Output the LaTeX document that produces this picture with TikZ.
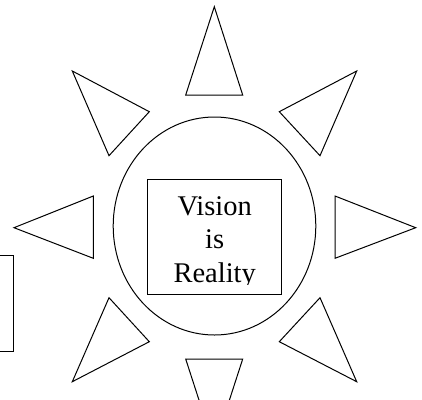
\documentclass[tikz,border=0pt]{standalone}
\usepackage{fontspec}
\setmainfont{Liberation Serif}
\begin{document}
\begin{tikzpicture}[x=1pt, y=-1pt, line width=1pt, line join=miter,
    ray/.style={draw=black},
    word/.style={font=\fontsize{28.5}{34}\selectfont, inner sep=0pt, anchor=base}]

            \def\cx{214.5}     % centre of the sun
            \def\cy{226}

            \useasboundingbox (0,0) rectangle (422,399);

            % rays
            \draw[ray] (214.3,6.7) -- (185.7,95) -- (242.7,95) -- cycle;
            \draw[ray] (72.3,71) -- (149.3,111.7) -- (109,155.7) -- cycle;
            \draw[ray] (356.7,71) -- (279.3,111.7) -- (320,155.7) -- cycle;
            \draw[ray] (14,227.7) -- (93.3,196) -- (93.3,258.3) -- cycle;
            \draw[ray] (415.7,227.7) -- (335,196) -- (335,258.3) -- cycle;
            \draw[ray] (109,297.7) -- (149.3,341.7) -- (72.3,381.7) -- cycle;
            \draw[ray] (320,297.7) -- (279.3,341.7) -- (356.7,381.7) -- cycle;
            \begin{scope}
                \clip (0,0) rectangle (422,399);
                \draw[ray] (185.7,359) -- (242.7,359) -- (214.2,447) -- cycle;
                % box at the left edge
                \draw (-20,255.7) rectangle (13.3,351);
            \end{scope}

            % sun
            \draw (\cx,\cy) ellipse (101.3 and 109);
            \draw (147.7,179) rectangle (281.7,294);

            \begin{scope}
                \clip (147.7,179) rectangle (281.7,284);
                \node[word] (vis1) at (214.7,215) {Vision};
                \node[word] (vis2) at (214.7,248.3) {is};
                \node[word] (vis3) at (214.7,282.7) {Reality};
            \end{scope}

\end{tikzpicture}
\end{document}
